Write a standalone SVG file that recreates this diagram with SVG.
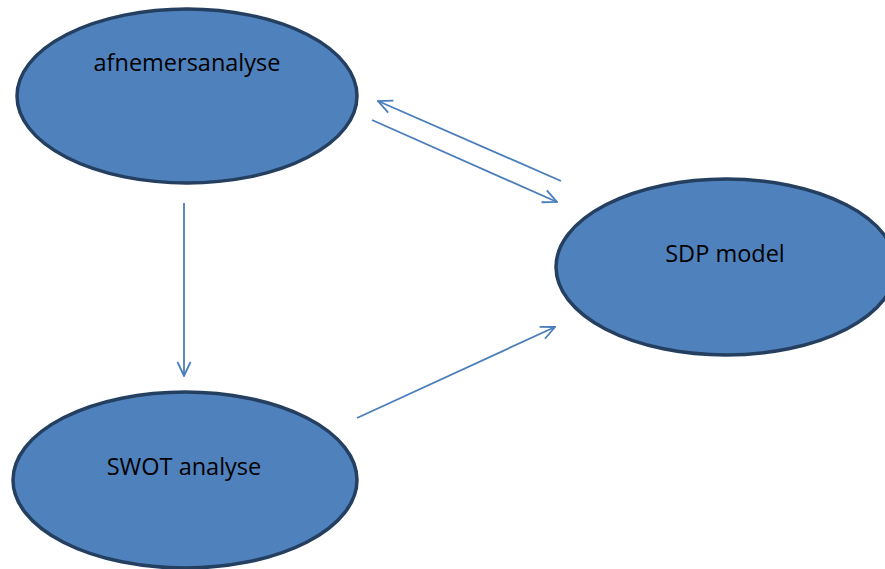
<svg xmlns="http://www.w3.org/2000/svg" width="885" height="569" viewBox="0 0 885 569">
  <style>
    .node ellipse { fill: #4f81bd; stroke: #243f60; stroke-width: 3.5; }
    .node text { font-family: "Open Sans", "Liberation Sans", sans-serif; font-size: 23.5px; fill: #000; text-anchor: middle; }
    .edge { stroke: #4a7ebb; stroke-width: 1.8; fill: none; marker-end: url(#open); }
  </style>
  <defs>
    <marker id="open" viewBox="0 0 16 16" refX="15" refY="8" markerWidth="16" markerHeight="16" markerUnits="userSpaceOnUse" orient="auto">
      <polyline points="1,1.5 15,8 1,14.5" fill="none" stroke="#4a7ebb" stroke-width="1.8"/>
    </marker>
  </defs>
  <rect width="885" height="569" fill="#ffffff"/>
  <g id="connectors">
    <line class="edge" x1="561" y1="181" x2="378" y2="101"/>
    <line class="edge" x1="372" y1="120" x2="557" y2="202"/>
    <line class="edge" x1="184" y1="203" x2="184" y2="376"/>
    <line class="edge" x1="357" y1="418" x2="555" y2="327"/>
  </g>
  <g id="afnemersanalyse" class="node">
    <ellipse cx="187" cy="96" rx="170" ry="87"/>
    <text x="187" y="71">afnemersanalyse</text>
  </g>
  <g id="sdp-model" class="node">
    <ellipse cx="726" cy="267" rx="170" ry="88"/>
    <text x="725" y="262">SDP model</text>
  </g>
  <g id="swot-analyse" class="node">
    <ellipse cx="185" cy="480" rx="172" ry="88"/>
    <text x="184" y="475">SWOT analyse</text>
  </g>
</svg>
